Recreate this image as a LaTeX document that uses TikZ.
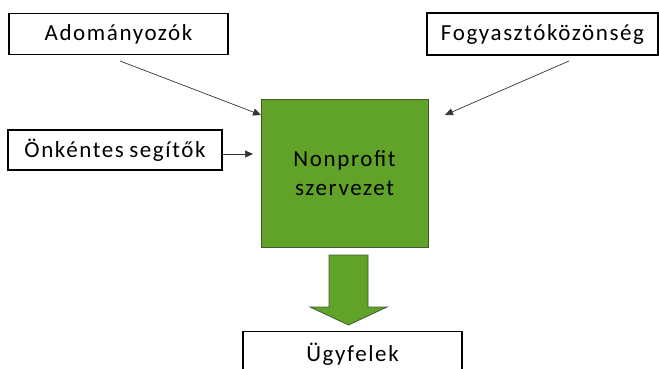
\documentclass[tikz,border=0pt]{standalone}
\usepackage{fontspec}
\setmainfont{Carlito}[LetterSpace=7]
\usetikzlibrary{arrows.meta,shapes.arrows}
\definecolor{npgreen}{RGB}{96,163,40}
\definecolor{npedge}{RGB}{70,90,50}
\begin{document}
\begin{tikzpicture}[x=1pt,y=-1pt,
  txtbox/.style={draw=black,line width=1.2pt,fill=white,inner sep=0pt,font=\fontsize{23}{27}\selectfont},
  feed/.style={draw=black!80,line width=0.7pt,-{Triangle[length=8pt,width=7pt]}}]
\useasboundingbox (0,0) rectangle (659,368);
\node[txtbox,minimum width=219pt,minimum height=41pt] (ado) at (118.5,34) {Adományozók};
\node[txtbox,minimum width=214pt,minimum height=40pt] (onk) at (115,150) {Önkéntes\hspace{-1.5pt} segítők};
\node[txtbox,minimum width=231pt,minimum height=42pt] (fogy) at (542.5,34) {Fogyasztóközönség};
\node[draw=npedge,line width=1pt,fill=npgreen,minimum width=167pt,minimum height=148pt,inner sep=0pt,
  align=center,font=\fontsize{23}{29}\selectfont] (np) at (344.5,173) {Nonprofit\\szervezet};
\node[txtbox,minimum width=219pt,minimum height=60pt,anchor=north] (ugy) at (352.5,331) {};
\node[font=\fontsize{23}{27}\selectfont,anchor=base] (ugyt) at (352.5,361) {Ügyfelek};
\coordinate (a1) at (120,61);
\coordinate (a2) at (261,115);
\coordinate (f1) at (569,61);
\coordinate (f2) at (445,115);
\coordinate (o1) at (222,154);
\coordinate (o2) at (253,154);
\draw[feed] (a1) -- (a2);
\draw[feed] (f1) -- (f2);
\draw[feed] (o1) -- (o2);
\draw[draw=npedge,line width=0.8pt,fill=npgreen] (329,255) -- (368,255) -- (368,307) -- (387,307) -- (348.5,325) -- (310,307) -- (329,307) -- cycle;
\end{tikzpicture}
\end{document}
